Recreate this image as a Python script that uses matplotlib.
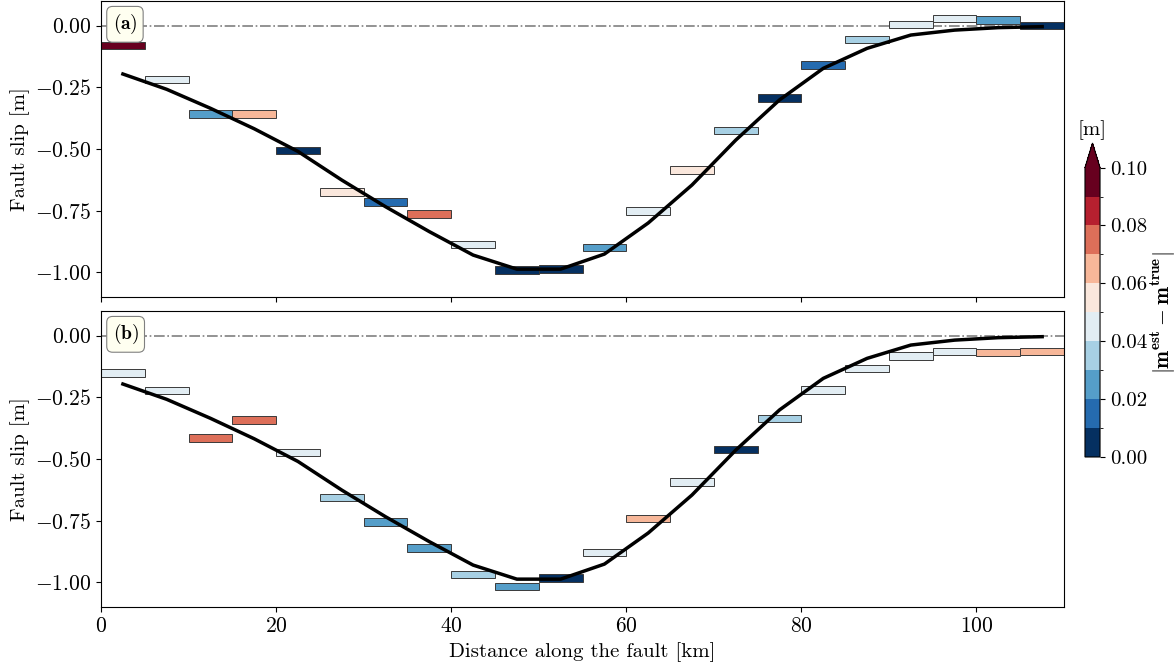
import matplotlib
matplotlib.use("Agg")
import matplotlib.pyplot as plt
import numpy as np
from matplotlib.colors import BoundaryNorm

plt.rcParams['font.family'] = 'serif'
plt.rcParams['font.serif'] = ['cmr10']
plt.rcParams['mathtext.fontset'] = 'cm'
plt.rcParams['axes.formatter.use_mathtext'] = True
plt.rcParams['axes.unicode_minus'] = True

# fault segments, 5 km each
seg_left = np.arange(0, 110, 5)
seg_width = 5.0

# true slip at the segment centres
true_x = [2.5, 7.5, 12.5, 17.5, 22.5, 27.5, 32.5, 37.5, 42.5, 47.5, 52.5,
          57.5, 62.5, 67.5, 72.5, 77.5, 82.5, 87.5, 92.5, 97.5, 102.5, 107.5]
true_slip = [-0.196, -0.258, -0.335, -0.418, -0.51, -0.626, -0.734, -0.835, -0.93, -0.987, -0.987,
             -0.926, -0.80, -0.646, -0.464, -0.301, -0.173, -0.092, -0.038, -0.018, -0.008, -0.004]

# estimated slip, panel (a) and (b)
est_a = [-0.080, -0.218, -0.358, -0.358, -0.507, -0.674, -0.715, -0.764, -0.888, -0.991, -0.986,
         -0.900, -0.751, -0.585, -0.426, -0.293, -0.159, -0.055, 0.005, 0.030, 0.023, 0.000]
est_b = [-0.151, -0.222, -0.414, -0.342, -0.474, -0.655, -0.755, -0.861, -0.968, -1.016, -0.982,
         -0.878, -0.741, -0.593, -0.462, -0.336, -0.220, -0.134, -0.082, -0.064, -0.069, -0.064]

# absolute error |m_est - m_true|
err_a = [0.095, 0.045, 0.025, 0.065, 0.005, 0.055, 0.015, 0.075, 0.045, 0.005, 0.005,
         0.025, 0.045, 0.055, 0.035, 0.005, 0.015, 0.035, 0.045, 0.045, 0.025, 0.005]
err_b = [0.045, 0.045, 0.075, 0.075, 0.045, 0.035, 0.025, 0.025, 0.035, 0.025, 0.005,
         0.045, 0.065, 0.045, 0.005, 0.035, 0.045, 0.045, 0.045, 0.045, 0.065, 0.065]

bounds = np.linspace(0, 0.1, 11)
cmap = plt.get_cmap('RdBu_r', 10)
norm = BoundaryNorm(bounds, cmap.N)
bar_h = 0.03

fig = plt.figure(figsize=(11.76, 6.68), dpi=100)
ax_a = fig.add_axes([0.0859, 0.5554, 0.8189, 0.4431])
ax_b = fig.add_axes([0.0859, 0.0913, 0.8189, 0.4431], sharex=ax_a)
cax = fig.add_axes([0.9226, 0.3159, 0.0128, 0.470])

for ax, est, err, tag in [(ax_a, est_a, err_a, 'a'), (ax_b, est_b, err_b, 'b')]:
    ax.axhline(0, color='gray', ls='-.', lw=1.2, zorder=1)
    ax.bar(seg_left, bar_h, width=seg_width, bottom=np.array(est) - bar_h / 2,
           align='edge', color=cmap(norm(err)), edgecolor='#3a3a3a', linewidth=0.7,
           zorder=2)
    ax.plot(true_x, true_slip, color='k', lw=2.5, zorder=3)
    ax.set_xlim(0, 110)
    ax.set_ylim(-1.1, 0.1)
    ax.set_yticks([0, -0.25, -0.5, -0.75, -1.0])
    ax.set_ylabel('Fault slip [m]', fontsize=15)
    ax.tick_params(labelsize=15.5)
    ax.text(0.012, 0.962, r'$\mathbf{(%s)}$' % tag, transform=ax.transAxes,
            ha='left', va='top', fontsize=14, zorder=5,
            bbox=dict(boxstyle='round,pad=0.3', fc='ivory', ec='gray', lw=0.8))

ax_a.tick_params(labelbottom=False)
ax_b.set_xticks([0, 20, 40, 60, 80, 100])
ax_b.set_xlabel('Distance along the fault [km]', fontsize=15)

sm = plt.cm.ScalarMappable(cmap=cmap, norm=norm)
cb = fig.colorbar(sm, cax=cax, extend='max', extendfrac=0.085,
                  ticks=[0, 0.02, 0.04, 0.06, 0.08, 0.10])
cb.ax.set_yticklabels(['0.00', '0.02', '0.04', '0.06', '0.08', '0.10'])
cb.ax.tick_params(labelsize=15)
cb.set_label(r'$|\mathbf{m}^{\mathbf{est}} - \mathbf{m}^{\mathbf{true}}|$', fontsize=15.5,
             labelpad=2)
cb.ax.set_title('[m]', fontsize=15)

fig.savefig('out.png', dpi=100)
